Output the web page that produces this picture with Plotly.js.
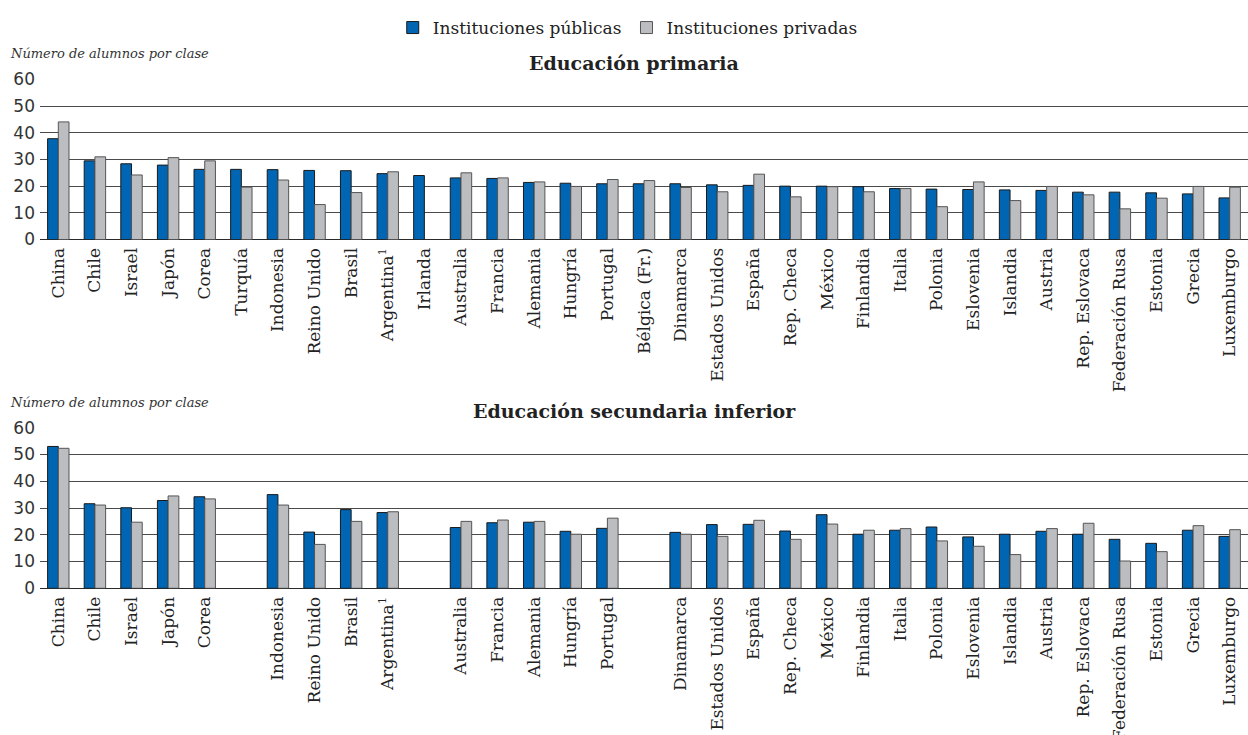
<!DOCTYPE html>
<html>
<head>
<meta charset="utf-8">
<script src="https://cdn.plot.ly/plotly-3.0.1.min.js"></script>
<style>html,body{margin:0;padding:0;background:#fff;}#chart{width:1248px;height:735px;}</style>
</head>
<body>
<div id="chart"></div>
<script>
const categories = ['China','Chile','Israel','Japón','Corea','Turquía','Indonesia','Reino Unido','Brasil','Argentina<sup>1</sup>','Irlanda','Australia','Francia','Alemania','Hungría','Portugal','Bélgica (Fr.)','Dinamarca','Estados Unidos','España','Rep. Checa','México','Finlandia','Italia','Polonia','Eslovenia','Islandia','Austria','Rep. Eslovaca','Federación Rusa','Estonia','Grecia','Luxemburgo'];
const primaryPublic  = [37.8,29.5,28.4,27.9,26.3,26.3,26.2,25.9,25.8,24.7,24.0,23.1,22.9,21.4,21.1,20.9,20.9,20.9,20.5,20.3,20.0,20.0,19.8,19.1,18.9,18.75,18.6,18.4,17.75,17.75,17.5,17.1,15.6];
const primaryPrivate = [44.1,31.0,24.2,30.7,29.5,19.6,22.3,13.1,17.6,25.4,null,25.0,23.1,21.6,19.9,22.5,22.1,19.5,17.9,24.5,16.0,19.8,17.9,19.1,12.3,21.6,14.6,19.9,16.75,11.5,15.5,19.9,19.6];

const lowerCategories = ['China','Chile','Israel','Japón','Corea','','Indonesia','Reino Unido','Brasil','Argentina<sup>1</sup>','','Australia','Francia','Alemania','Hungría','Portugal','','Dinamarca','Estados Unidos','España','Rep. Checa','México','Finlandia','Italia','Polonia','Eslovenia','Islandia','Austria','Rep. Eslovaca','Federación Rusa','Estonia','Grecia','Luxemburgo'];
const lowerPublic  = [53.0,31.6,30.1,32.8,34.2,null,35.0,21.0,29.4,28.3,null,22.7,24.5,24.7,21.3,22.4,null,20.9,23.8,23.9,21.4,27.5,20.2,21.7,22.9,19.2,20.2,21.3,20.2,18.3,16.8,21.7,19.4];
const lowerPrivate = [52.3,31.1,24.7,34.5,33.4,null,31.1,16.4,25.0,28.6,null,25.0,25.5,25.0,20.2,26.2,null,20.2,19.4,25.4,18.3,24.0,21.7,22.3,17.7,15.7,12.6,22.3,24.3,10.2,13.7,23.4,21.9];

const seriesNames = ['Instituciones públicas','Instituciones privadas'];
const panelTitles = ['Educación primaria','Educación secundaria inferior'];
const yTitle = 'Número de alumnos por clase';
const yTicks = [0,10,20,30,40,50,60];

const idx = categories.map((_, i) => i);
const blue = '#0066b3', gray = '#bcbdc0';
const serif = 'DejaVu Serif, serif';

function bar(y, name, color, lineColor, xa, ya, show) {
  return {type:'bar', x: idx, y: y, name: name, xaxis: xa, yaxis: ya, showlegend: show,
    marker:{color: color, line:{color: lineColor, width: 1}}, hoverinfo:'skip'};
}
const data = [
  bar(primaryPublic, seriesNames[0], blue, '#1a1a1a', 'x', 'y', true),
  bar(primaryPrivate, seriesNames[1], gray, '#555', 'x', 'y', true),
  bar(lowerPublic, seriesNames[0], blue, '#1a1a1a', 'x2', 'y2', false),
  bar(lowerPrivate, seriesNames[1], gray, '#555', 'x2', 'y2', false)
];

const xBase = {domain:[40/1248, 1], range:[-0.5, idx.length-0.5], tickmode:'array', tickvals: idx,
  tickangle:-90, ticks:'', showgrid:false, zeroline:false, showline:false, fixedrange:true,
  tickfont:{family: serif, size:17, color:'#222'}, ticklabelstandoff: 4};
const yBase = {range:[0,60], tickvals: yTicks, ticks:'', showgrid:true, gridcolor:'#4a4a4a', gridwidth:1,
  zeroline:true, zerolinecolor:'#2a2a2a', zerolinewidth:1.3, showline:false, fixedrange:true,
  tickfont:{family:'DejaVu Sans, sans-serif', size:17, color:'#333'}, ticklabelstandoff: 4};

const layout = {
  width:1248, height:735, margin:{l:0, r:0, t:0, b:0}, paper_bgcolor:'#fff', plot_bgcolor:'#fff',
  barmode:'group', bargap:0.415, bargroupgap:0,
  showlegend:true,
  legend:{orientation:'h', x:0.503, xanchor:'center', y:1-28/735, yanchor:'middle',
    font:{family: serif, size:17, color:'#222'}, traceorder:'normal', itemwidth:30},
  xaxis: Object.assign({}, xBase, {anchor:'y', ticktext: categories}),
  xaxis2: Object.assign({}, xBase, {anchor:'y2', ticktext: lowerCategories}),
  yaxis: Object.assign({}, yBase, {domain:[1-239.5/735, 1-79.5/735], anchor:'x'}),
  yaxis2: Object.assign({}, yBase, {domain:[1-588.3/735, 1-427.7/735], anchor:'x2'}),
  annotations:[
    {text:'<b>'+panelTitles[0]+'</b>', xref:'paper', yref:'paper', x:634/1248, y:1-63/735, xanchor:'center', yanchor:'middle', showarrow:false, font:{family:serif, size:19, color:'#222'}},
    {text:'<b>'+panelTitles[1]+'</b>', xref:'paper', yref:'paper', x:634/1248, y:1-411/735, xanchor:'center', yanchor:'middle', showarrow:false, font:{family:serif, size:19, color:'#222'}},
    {text:'<i>'+yTitle+'</i>', xref:'paper', yref:'paper', x:8/1248, y:1-53/735, xanchor:'left', yanchor:'middle', showarrow:false, font:{family:serif, size:13, color:'#333'}},
    {text:'<i>'+yTitle+'</i>', xref:'paper', yref:'paper', x:8/1248, y:1-402/735, xanchor:'left', yanchor:'middle', showarrow:false, font:{family:serif, size:13, color:'#333'}}
  ]
};
Plotly.newPlot('chart', data, layout, {staticPlot:true, displayModeBar:false});
</script>
</body>
</html>
